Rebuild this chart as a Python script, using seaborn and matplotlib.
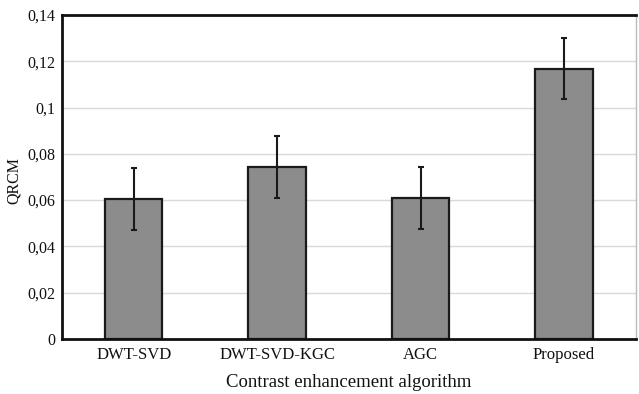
import matplotlib
matplotlib.use("Agg")
import matplotlib.pyplot as plt
import seaborn as sns
import pandas as pd
from matplotlib.ticker import FuncFormatter, MultipleLocator

algorithms = ["DWT-SVD", "DWT-SVD-KGC", "AGC", "Proposed"]
qrcm = [0.0605, 0.0743, 0.0611, 0.1168]
qrcm_err = [0.0132, 0.0134, 0.0134, 0.0133]

sns.set_theme(style="white")
plt.rcParams["font.family"] = ["Liberation Serif", "DejaVu Serif"]

df = pd.DataFrame({"algorithm": algorithms, "qrcm": qrcm})

fig = plt.figure(figsize=(6.39, 3.94), dpi=100)
ax = fig.add_axes([0.097, 0.1396, 0.898, 0.8224])

sns.barplot(data=df, x="algorithm", y="qrcm", color="#8c8c8c", saturation=1,
            width=0.40, edgecolor="#1a1a1a", linewidth=1.6, errorbar=None,
            ax=ax, zorder=2)
ax.errorbar(range(len(algorithms)), qrcm, yerr=qrcm_err, fmt="none",
            ecolor="#1a1a1a", elinewidth=1.5, capsize=2.5, capthick=1.5, zorder=3)

ax.set_ylim(0, 0.14)
ax.set_xlim(-0.5, len(algorithms) - 0.5)
ax.yaxis.set_major_locator(MultipleLocator(0.02))
ax.yaxis.set_major_formatter(FuncFormatter(lambda v, p: ("%g" % round(v, 4)).replace(".", ",")))
ax.grid(axis="y", color="#d9d9d9", linewidth=1.0, zorder=0)
ax.set_axisbelow(True)

for side in ["left", "bottom", "top"]:
    ax.spines[side].set_color("#111111")
    ax.spines[side].set_linewidth(2.0)
ax.spines["right"].set_color("#bbbbbb")
ax.spines["right"].set_linewidth(1.0)

ax.tick_params(axis="x", length=0, labelsize=12, colors="#111111", pad=6)
ax.tick_params(axis="y", length=0, labelsize=11.5, colors="#111111", pad=5)
ax.set_xlabel("Contrast enhancement algorithm", fontsize=13.5, color="#111111", labelpad=8)
ax.set_ylabel("QRCM", fontsize=11.5, color="#111111")
ax.yaxis.set_label_coords(-0.07, 0.49)

fig.savefig("out.png", dpi=100)
